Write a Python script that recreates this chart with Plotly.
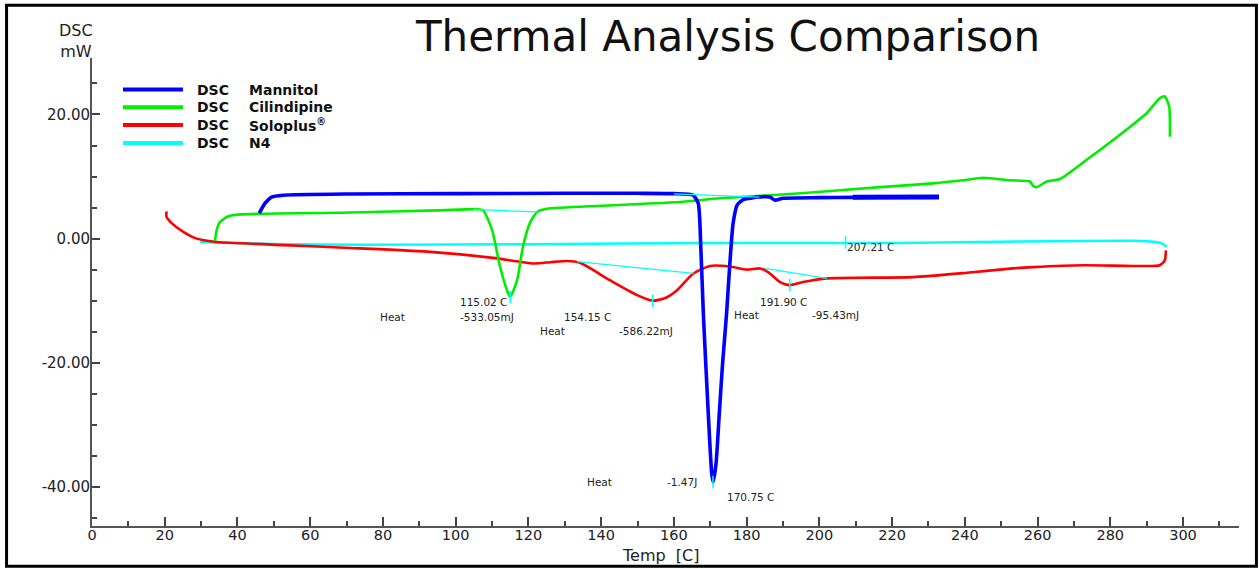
import plotly.graph_objects as go

# ---------------- data ----------------
mannitol_T = [46.0, 47.6, 49.4, 52.6, 70.9, 100, 130, 150, 160, 165.3, 166.7, 167.4, 168.1, 169.0,
              169.7, 170.4, 170.8, 171.6, 172.5, 173.4, 174.5, 175.4, 176.3, 177.4, 179.1, 180.9,
              183.1, 186.4, 187.8, 190.0, 200, 209.2, 220, 232.9]
mannitol_mW = [4.1, 5.7, 6.7, 7.0, 7.2, 7.25, 7.3, 7.3, 7.25, 7.0, 5.7, -1.3, -12.0, -22.8,
               -30.9, -37.8, -39.2, -36.2, -28.1, -20.1, -12.0, -4.0, 2.5, 5.4, 6.3, 6.5,
               6.7, 6.7, 6.2, 6.5, 6.6, 6.65, 6.7, 6.7]

cilindipine_T = [33.8, 34.3, 35.2, 37.5, 40.7, 70.9, 95, 105.9, 107.5, 110.0, 112.2, 114.1, 115.0,
                 116.9, 118.5, 120.4, 122.4, 125.1, 140, 161.7, 172.7, 195, 216.7, 231.3, 239.5,
                 245.0, 252.4, 257.9, 258.8, 259.8, 262.5, 266.1, 273.5, 285.4, 290.0, 293.6,
                 295.0, 296.2, 296.4]
cilindipine_mW = [-0.4, 1.4, 2.7, 3.6, 3.9, 4.2, 4.55, 4.75, 4.6, 1.4, -4.5, -8.3, -9.4,
                  -6.7, -1.3, 2.5, 4.3, 4.8, 5.3, 5.9, 6.5, 7.3, 8.3, 8.9, 9.4,
                  9.8, 9.4, 9.2, 8.5, 8.3, 9.2, 9.6, 12.7, 18.0, 20.2, 22.6,
                  22.9, 21.3, 16.4]

soloplus_T = [20.5, 20.5, 21.9, 25.1, 28.8, 33.8, 52.6, 71.0, 92.1, 110.3, 121.3, 126.0,
              130.6, 134.2, 142.4, 149.9, 154.2, 157.5, 160.9, 165.2, 169.9, 175.4, 180.1, 183.7,
              185.9, 189.2, 191.9, 195.5, 202.1, 225.7, 240.6, 253.2, 258.7, 272.5, 286.2,
              293.6, 295.0, 295.3]
soloplus_mW = [4.4, 3.5, 2.5, 1.1, 0.0, -0.5, -1.05, -1.5, -2.1, -3.1, -4.0, -3.8,
               -3.6, -3.9, -6.7, -9.1, -10.0, -9.6, -8.3, -5.7, -4.4, -4.5, -5.0, -4.8,
               -5.4, -7.0, -7.5, -7.0, -6.4, -6.2, -5.5, -4.8, -4.6, -4.3, -4.4,
               -4.3, -3.5, -1.9]

n4_T = [29.7, 50, 73.7, 120, 172.7, 222.2, 255, 286, 292, 294.7, 295.5]
n4_mW = [-0.6, -0.85, -1.0, -0.9, -0.7, -0.7, -0.45, -0.35, -0.5, -0.9, -1.4]

baseline_T = [[105.0, 122.5], [160.0, 183.5], [133.4, 165.5], [185.0, 202.1]]
baseline_mW = [[4.7, 4.3], [7.2, 6.7], [-3.7, -5.6], [-4.8, -6.4]]

peak_T = [115.02, 154.15, 170.75, 191.90, 207.21]
peak_mW = [-9.4, -10.0, -39.2, -7.5, -0.6]

y_ticks = [-40, -20, 0, 20]
y_ticktext = ["-40.00", "-20.00", "0.00", "20.00"]
x_ticks = list(range(0, 301, 20))

series_names = ["Mannitol", "Cilindipine", "Soloplus<sup>®</sup>", "N4"]
series_prefix = "DSC"

# ---------------- figure ----------------
BLUE, GREEN, RED, CYAN = "#0000ff", "#00ee00", "#ff0000", "#00ffff"
series_colors = [BLUE, GREEN, RED, CYAN]
fig = go.Figure()
fig.add_trace(go.Scatter(x=n4_T, y=n4_mW, mode="lines", name="DSC " + series_names[3],
                         line=dict(color=CYAN, width=2.5, shape="spline", smoothing=0.6)))
fig.add_trace(go.Scatter(x=soloplus_T, y=soloplus_mW, mode="lines", name="DSC " + series_names[2],
                         line=dict(color=RED, width=2.6, shape="spline", smoothing=0.6)))
fig.add_trace(go.Scatter(x=cilindipine_T, y=cilindipine_mW, mode="lines",
                         name="DSC " + series_names[1],
                         line=dict(color=GREEN, width=2.6, shape="spline", smoothing=0.6)))
fig.add_trace(go.Scatter(x=mannitol_T, y=mannitol_mW, mode="lines", name="DSC " + series_names[0],
                         line=dict(color=BLUE, width=3.6, shape="spline", smoothing=0.6)))
# thicker tail of the Mannitol record
tail = [i for i, t in enumerate(mannitol_T) if t >= 209.2]
fig.add_trace(go.Scatter(x=[mannitol_T[i] for i in tail], y=[mannitol_mW[i] for i in tail],
                         mode="lines", hoverinfo="skip", line=dict(color=BLUE, width=5)))
for bt, bm in zip(baseline_T, baseline_mW):
    fig.add_trace(go.Scatter(x=bt, y=bm, mode="lines", hoverinfo="skip",
                             line=dict(color=CYAN, width=1.2)))
fig.add_trace(go.Scatter(x=peak_T, y=peak_mW, mode="markers",
                         marker=dict(symbol="line-ns", size=9,
                                     line=dict(color=CYAN, width=1.5))))

TXT = "#222222"
labels = [
    ("115.02 C", 100.6, -10.2), ("Heat", 78.6, -12.6), ("-533.05mJ", 100.6, -12.6),
    ("154.15 C", 129.2, -12.6), ("Heat", 122.6, -14.9), ("-586.22mJ", 144.3, -14.9),
    ("191.90 C", 183.1, -10.2), ("Heat", 176.0, -12.3), ("-95.43mJ", 197.4, -12.3),
    ("207.21 C", 207.0, -1.3), ("Heat", 135.6, -39.2), ("-1.47J", 157.5, -39.2),
    ("170.75 C", 174.0, -41.7),
]
for txt, lx, ly in labels:
    fig.add_annotation(x=lx, y=ly, xref="x", yref="y", text=txt, showarrow=False,
                       xanchor="left", yanchor="middle",
                       font=dict(family="DejaVu Sans", size=10.5, color=TXT))

# legend (drawn as key lines + text, to match the instrument-software layout)
leg_rows_y = [0.9326, 0.8946, 0.8567, 0.8183]
for name, col, ry in zip(series_names, series_colors, leg_rows_y):
    fig.add_shape(type="line", xref="paper", yref="paper", x0=0.0270, x1=0.0793,
                  y0=ry, y1=ry, line=dict(color=col, width=4))
    fig.add_annotation(x=0.0898, y=ry, xref="paper", yref="paper", text=series_prefix,
                       showarrow=False, xanchor="left", yanchor="middle",
                       font=dict(family="DejaVu Sans", size=14, color="#111111", weight="bold"))
    fig.add_annotation(x=0.1351, y=ry, xref="paper", yref="paper", text=name,
                       showarrow=False, xanchor="left", yanchor="middle",
                       font=dict(family="DejaVu Sans", size=14, color="#111111", weight="bold"))

# axis titles
fig.add_annotation(x=-0.014, y=1.037, xref="paper", yref="paper", text="DSC<br>mW",
                   showarrow=False, xanchor="center", yanchor="middle", align="center",
                   font=dict(family="DejaVu Sans", size=16, color=TXT))
fig.add_annotation(x=0.496, y=-0.062, xref="paper", yref="paper", text="Temp  [C]",
                   showarrow=False, xanchor="center", yanchor="middle",
                   font=dict(family="DejaVu Sans", size=16, color=TXT))

# outer frame
fig.add_shape(type="rect", xref="paper", yref="paper", x0=-0.0745, x1=1.0152,
              y0=-0.0862, y1=1.1125, line=dict(color="black", width=3))

axis_common = dict(showgrid=False, zeroline=False, showline=True, linecolor="#555555",
                   linewidth=2, ticks="inside", tickcolor="#444444", tickwidth=1.5)
fig.update_xaxes(range=[0, 315.4], tickvals=x_ticks, ticklen=9, ticklabelstandoff=-5,
                 tickfont=dict(family="DejaVu Sans", size=14.5, color=TXT),
                 minor=dict(dtick=10, ticks="inside", ticklen=5, tickcolor="#444444"),
                 **axis_common)
fig.update_yaxes(range=[-46.3, 29.1], tickvals=y_ticks, ticktext=y_ticktext, ticklen=8,
                 ticklabelstandoff=-3,
                 tickfont=dict(family="DejaVu Sans", size=15, color=TXT),
                 minor=dict(dtick=5, ticks="inside", ticklen=5, tickcolor="#444444"),
                 **axis_common)

fig.update_layout(
    width=1259, height=569,
    margin=dict(l=92, r=20, t=58, b=43),
    paper_bgcolor="white", plot_bgcolor="white",
    showlegend=False,
    title=dict(text="Thermal Analysis Comparison", x=0.5545, xref="paper", xanchor="center",
               y=0.937, yref="container", yanchor="middle",
               font=dict(family="DejaVu Sans", size=42, color="#111111")),
)

fig.write_html("out.html")
